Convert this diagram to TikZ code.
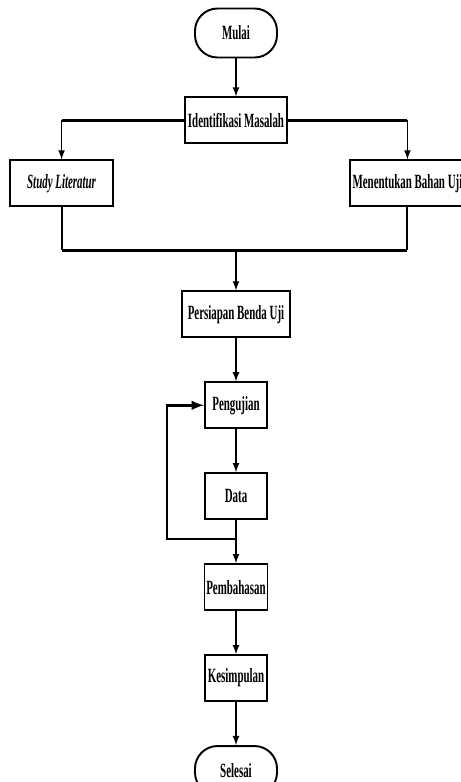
\documentclass[tikz,border=0pt]{standalone}
\usepackage{fontspec}
\setmainfont{Liberation Serif}[FakeStretch=0.54]
\usetikzlibrary{positioning,shapes,arrows}

\begin{document}
\begin{tikzpicture}[
	node distance=0.86cm and 1cm,
	font=\fontsize{11.5}{13}\selectfont\bfseries,
	kotak/.style={draw,line width=1.1pt,minimum height=0.92cm,inner sep=1pt,align=center},
	terminal/.style={kotak,rounded corners=0.45cm,minimum width=1.64cm,minimum height=0.98cm},
	garis/.style={line width=2pt},
	panah/.style={-latex,line width=0.8pt}
	]
	\useasboundingbox (0,0) rectangle (9.2,-15.64);
	\node[terminal] (mulai) at (4.72,-0.66) {Mulai};
	\node[kotak,minimum width=2.04cm,below=0.76cm of mulai] (identifikasi) {Identifikasi Masalah};
	\node[kotak,minimum width=2.06cm,below left=0.3cm and 1.4cm of identifikasi] (study) {\itshape Study Literatur};
	\node[kotak,minimum width=2.3cm,inner sep=0pt,below right=0.3cm and 1.22cm of identifikasi] (menentukan) {Menentukan Bahan Uji};
	\node[kotak,minimum width=2.16cm,below=2.92cm of identifikasi] (persiapan) {Persiapan Benda Uji};
	\node[kotak,minimum width=1.24cm,below=of persiapan] (pengujian) {Pengujian};
	\node[kotak,minimum width=1.24cm,below=of pengujian] (data) {Data};
	\node[kotak,minimum width=1.24cm,below=of data] (pembahasan) {Pembahasan};
	\node[kotak,minimum width=1.24cm,below=of pembahasan] (kesimpulan) {Kesimpulan};
	\node[terminal,below=of kesimpulan] (selesai) {Selesai};
	\coordinate (cabangkiri) at (study |- identifikasi);
	\coordinate (cabangkanan) at (menentukan |- identifikasi);
	\coordinate[above=0.8cm of persiapan] (gabung);
	\coordinate (gabungkiri) at (study |- gabung);
	\coordinate (gabungkanan) at (menentukan |- gabung);
	\coordinate[below=0.38cm of data] (balik);
	\coordinate[left=1.38cm of balik] (balikkiri);
	\draw[garis] (cabangkiri) -- (identifikasi) -- (cabangkanan);
	\draw[line width=1.1pt] (study) -- (gabungkiri);
	\draw[line width=1.1pt] (menentukan) -- (gabungkanan);
	\draw[garis] (gabungkiri) -- (gabungkanan);
	\draw[line width=1.4pt,-latex] (balik) -- (balikkiri) |- (pengujian.west);
		\path [panah]
		(mulai) edge (identifikasi)
		(cabangkiri) edge (study)
		(cabangkanan) edge (menentukan)
		(gabung) edge (persiapan)
		(persiapan) edge (pengujian)
		(pengujian) edge (data)
		(data) edge (pembahasan)
		(pembahasan) edge (kesimpulan)
		(kesimpulan) edge (selesai);
\end{tikzpicture}
\end{document}
